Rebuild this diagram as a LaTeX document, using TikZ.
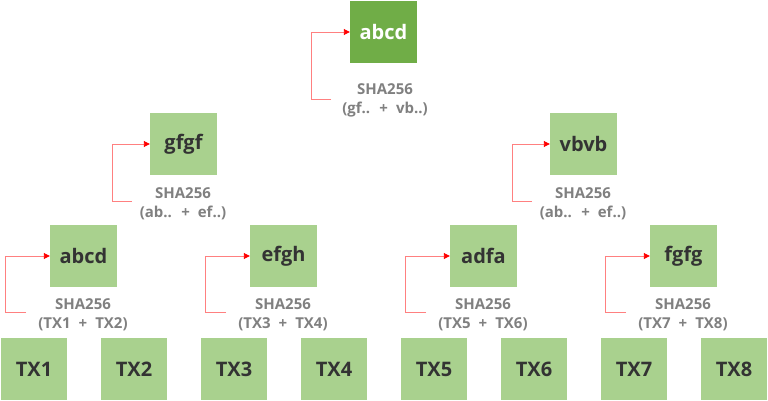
\documentclass[tikz,border=0pt]{standalone}
\usepackage{fontspec}
\setmainfont{Open Sans}
\usetikzlibrary{arrows.meta}
\definecolor{lg}{HTML}{A9D18E}
\definecolor{dg}{HTML}{70AD47}
\definecolor{txt}{HTML}{333333}
\definecolor{lbl}{HTML}{808080}
\definecolor{conn}{HTML}{FF8080}
\newcommand\lblfont{\fontsize{15}{19}\selectfont\bfseries\spaceskip=8pt\relax}
\begin{document}
\begin{tikzpicture}[x=1pt,y=-1pt,
  hbox/.style={fill=lg, minimum width=67pt, minimum height=62pt, inner sep=0pt, text=txt, font=\fontsize{20}{24}\selectfont\bfseries},
  rootbox/.style={hbox, fill=dg, text=white},
  hlabel/.style={text=lbl, font=\lblfont, align=center, inner sep=0pt, anchor=north},
  link/.style={draw=conn, line width=0.9pt, -{Triangle[color=red, length=6pt, width=6pt]}}]
\useasboundingbox (0,0) rectangle (768,401);
% root
\node[rootbox] (root) at (383.5,32) {abcd};
\node[hlabel] (hroot) at (385,83) {SHA256\\(gf.. + vb..)};
% level 2
\node[hbox] (g) at (183.5,144) {gfgf};
\node[hbox] (v) at (583.5,144) {vbvb};
\node[hlabel] (hg) at (183,187) {SHA256\\(ab.. + ef..)};
\node[hlabel] (hv) at (583,187) {SHA256\\(ab.. + ef..)};
% level 3
\node[hbox] (a) at (83.5,256) {abcd};
\node[hbox] (e) at (283.5,256) {efgh};
\node[hbox] (d) at (483.5,256) {adfa};
\node[hbox] (f) at (683.5,256) {fgfg};
\node[hlabel] (ha) at (83,298) {SHA256\\(TX1 + TX2)};
\node[hlabel] (he) at (283,298) {SHA256\\(TX3 + TX4)};
\node[hlabel] (hd) at (483,298) {SHA256\\(TX5 + TX6)};
\node[hlabel] (hf) at (683,298) {SHA256\\(TX7 + TX8)};
% leaves
\foreach \i in {1,...,8}{
  \node[hbox, minimum width=66pt] (tx\i) at ({34+100*(\i-1)},369) {TX\i};
}
% connectors
\coordinate (sroot) at (331,99);
\coordinate (sg) at (132,201);
\coordinate (sv) at (532,201);
\coordinate (sa) at (26,312);
\coordinate (se) at (226,312);
\coordinate (sd) at (426,312);
\coordinate (sf) at (626,312);
\draw[link] (sroot) -- ++(-20,0) |- (root.west);
\draw[link] (sg) -- ++(-20,0) |- (g.west);
\draw[link] (sv) -- ++(-20,0) |- (v.west);
\draw[link] (sa) -- ++(-21,0) |- (a.west);
\draw[link] (se) -- ++(-21,0) |- (e.west);
\draw[link] (sd) -- ++(-21,0) |- (d.west);
\draw[link] (sf) -- ++(-21,0) |- (f.west);
\end{tikzpicture}
\end{document}
